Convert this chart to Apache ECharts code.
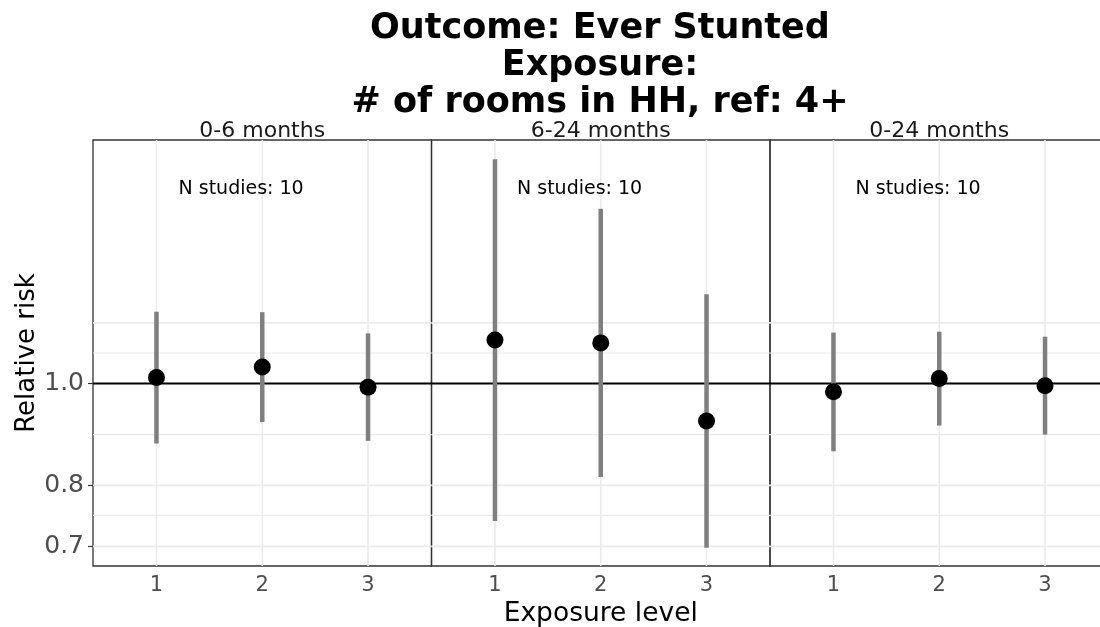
<!DOCTYPE html>
<html>
<head>
<meta charset="utf-8">
<title>Outcome: Ever Stunted</title>
<script src="https://cdn.jsdelivr.net/npm/echarts@6/dist/echarts.min.js"></script>
<style>
  html, body { margin: 0; padding: 0; background: #fff; }
  #chart { width: 1100px; height: 627px; }
</style>
</head>
<body>
<div id="chart"></div>
<script>
// facets and exposure levels
const panels = ['0-6 months', '6-24 months', '0-24 months'];
const levels = [1, 2, 3];

// relative risk with 95% CI, one row per facet
const estimates = [
  [1.013, 1.037, 0.992],
  [1.100, 1.093, 0.921],
  [0.982, 1.011, 0.995]
];
const ciLower = [
  [0.877, 0.919, 0.882],
  [0.740, 0.815, 0.698],
  [0.862, 0.912, 0.894]
];
const ciUpper = [
  [1.170, 1.169, 1.116],
  [1.634, 1.466, 1.216],
  [1.118, 1.120, 1.108]
];
const nStudies = [10, 10, 10];
const noteX = 1.8;
const noteY = 1.53;

// y axis (log scale)
const yTicks = [0.7, 0.8, 1.0];
const majorGrid = [0.7, 0.8, 1.142];
const minorGrid = [0.749, 0.894, 1.069];
const yRange = [0.6705, 1.7045];
const xRange = [0.4, 3.6];
const refValue = 1;

const FONT = 'DejaVu Sans';
const lg = Math.log10;

// panel layout
const plotLeft = 93, plotTop = 140, panelW = 338.5, panelH = 426;

const grids = [], xAxes = [], yAxes = [], series = [], graphics = [];

function hLineSeries(gi, values, color, width, z) {
  return {
    type: 'custom', xAxisIndex: gi, yAxisIndex: gi, z: z, silent: true,
    data: values.map(v => [2, lg(v)]),
    renderItem: function (params, api) {
      const cs = params.coordSys;
      const y = api.coord([api.value(0), api.value(1)])[1];
      return {
        type: 'line',
        shape: { x1: cs.x, y1: y, x2: cs.x + cs.width, y2: y },
        style: { stroke: color, lineWidth: width }
      };
    }
  };
}

panels.forEach(function (name, i) {
  const left = plotLeft + i * panelW;
  grids.push({
    left: left, top: plotTop, width: panelW, height: panelH,
    outerBoundsMode: 'none', containLabel: false,
    show: true, borderColor: '#333333', borderWidth: 1.3, backgroundColor: 'transparent'
  });
  xAxes.push({
    type: 'value', gridIndex: i, min: xRange[0], max: xRange[1],
    axisLine: { show: false },
    splitLine: { show: false },
    axisTick: { show: true, customValues: levels, length: 5, lineStyle: { color: '#333333', width: 1.2 } },
    axisLabel: { customValues: levels, margin: 9, fontFamily: FONT, fontSize: 21, color: '#4d4d4d' },
    name: i === 1 ? 'Exposure level' : '',
    nameLocation: 'middle', nameGap: 27,
    nameTextStyle: { fontFamily: FONT, fontSize: 26.5, color: '#000' }
  });
  yAxes.push({
    type: 'value', gridIndex: i, min: lg(yRange[0]), max: lg(yRange[1]),
    show: i === 0,
    axisLine: { show: false },
    splitLine: { show: false },
    axisTick: { show: true, customValues: yTicks.map(lg), length: 5, lineStyle: { color: '#333333', width: 1.2 } },
    axisLabel: {
      customValues: yTicks.map(lg), margin: 9,
      fontFamily: FONT, fontSize: 25, color: '#4d4d4d',
      formatter: v => Math.pow(10, v).toFixed(1)
    },
    name: i === 0 ? 'Relative risk' : '',
    nameLocation: 'middle', nameGap: 52,
    nameTextStyle: { fontFamily: FONT, fontSize: 26, color: '#000' }
  });

  // grid lines
  series.push(hLineSeries(i, minorGrid, '#ebebeb', 1.2, 1));
  series.push(hLineSeries(i, majorGrid, '#ebebeb', 1.6, 1));
  series.push({
    type: 'custom', xAxisIndex: i, yAxisIndex: i, z: 1, silent: true,
    data: levels.map(l => [l, 0]),
    renderItem: function (params, api) {
      const cs = params.coordSys;
      const x = api.coord([api.value(0), api.value(1)])[0];
      return {
        type: 'line',
        shape: { x1: x, y1: cs.y, x2: x, y2: cs.y + cs.height },
        style: { stroke: '#ebebeb', lineWidth: 1.6 }
      };
    }
  });
  // reference line at RR = 1
  series.push(hLineSeries(i, [refValue], '#000000', 2, 2));

  // confidence intervals
  series.push({
    type: 'custom', xAxisIndex: i, yAxisIndex: i, z: 3, silent: true,
    data: levels.map((l, j) => [l, lg(ciLower[i][j]), lg(ciUpper[i][j])]),
    renderItem: function (params, api) {
      const a = api.coord([api.value(0), api.value(1)]);
      const b = api.coord([api.value(0), api.value(2)]);
      return {
        type: 'line',
        shape: { x1: a[0], y1: a[1], x2: b[0], y2: b[1] },
        style: { stroke: '#7f7f7f', lineWidth: 4.5, lineCap: 'butt' }
      };
    }
  });

  // point estimates
  series.push({
    type: 'scatter', xAxisIndex: i, yAxisIndex: i, z: 4, silent: true,
    symbol: 'circle', symbolSize: 17,
    itemStyle: { color: '#000000', opacity: 1 },
    data: levels.map((l, j) => [l, lg(estimates[i][j])])
  });

  // N studies note
  series.push({
    type: 'scatter', xAxisIndex: i, yAxisIndex: i, z: 5, silent: true,
    symbolSize: 0,
    itemStyle: { color: '#000000', opacity: 1 },
    label: {
      show: true, position: 'inside',
      formatter: 'N studies: ' + nStudies[i],
      fontFamily: FONT, fontSize: 19, color: '#000000', opacity: 1
    },
    data: [[noteX, lg(noteY)]]
  });

  // facet strip label
  graphics.push({
    type: 'text', x: left + panelW / 2, y: 131,
    style: {
      text: name, fill: '#1a1a1a', font: '22px "DejaVu Sans"',
      align: 'center', verticalAlign: 'middle'
    }
  });
});

graphics.push({
  type: 'text', x: 600, y: 10,
  style: {
    text: 'Outcome: Ever Stunted\nExposure:\n# of rooms in HH, ref: 4+',
    fill: '#000', font: 'bold 35px "DejaVu Sans"', lineHeight: 37,
    align: 'center', verticalAlign: 'top'
  }
});

const chart = echarts.init(document.getElementById('chart'), null, { renderer: 'canvas' });
chart.setOption({
  animation: false,
  backgroundColor: '#ffffff',
  grid: grids,
  xAxis: xAxes,
  yAxis: yAxes,
  series: series,
  graphic: graphics
});
</script>
</body>
</html>
